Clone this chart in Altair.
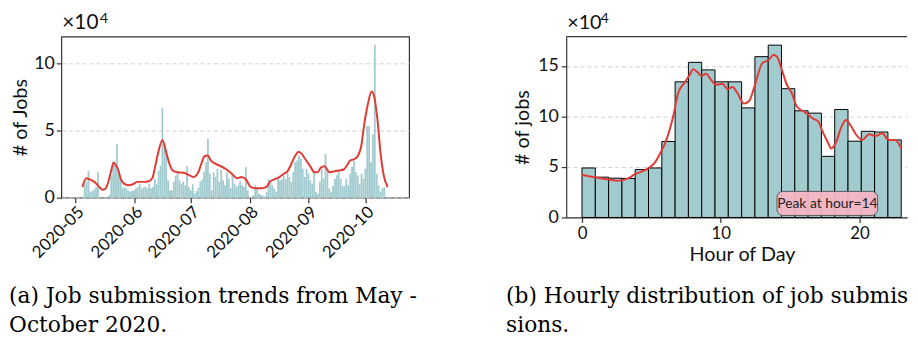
import altair as alt
import numpy as np
import pandas as pd

# ---------------- Panel (a): daily job submissions (x10^4) ----------------
daily_start = "2020-05-06"
daily_jobs = [
    1.0, 1.2, 2.0, 0.45, 0.5, 0.6, 0.8, 1.9, 0, 0,
    0, 0, 0, 0.2, 1.6, 2.7, 2.5, 4.0, 1.9, 1.3,
    0.7, 0.8, 0.7, 0.55, 0.45, 0.5, 0.55, 0.7, 0.8, 1.05,
    0.7, 0.75, 0.85, 0.7, 1.05, 0.7, 0.8, 1.4, 1.0, 2.0,
    2.4, 6.7, 4.1, 3.6, 1.3, 0.55, 0.55, 1.2, 1.65, 2.0,
    1.3, 1.05, 1.2, 0.93, 2.35, 0.8, 0.55, 1.0, 0.3, 0.5,
    0.75, 1.2, 1.37, 1.95, 2.65, 4.4, 1.8, 0.55, 1.9, 1.55,
    2.15, 1.2, 2.1, 1.3, 0.93, 1.9, 1.42, 0.7, 1.65, 1.05,
    0.8, 0.93, 1.22, 0.93, 0.8, 2.28, 0.55, 0.1, 0.05, 0.2,
    0.93, 0.7, 0.3, 0.2, 0.15, 0.1, 0.4, 1.37, 1.13, 0.93,
    0.7, 0.45, 1.42, 1.3, 1.37, 1.67, 1.37, 1.9, 1.54, 1.18,
    1.9, 2.65, 2.77, 3.14, 2.9, 2.16, 1.54, 2.16, 1.8, 1.3,
    1.05, 2.03, 0.45, 0.3, 1.2, 2.28, 1.42, 3.26, 1.9, 0.69,
    0.44, 0.88, 1.42, 1.67, 1.96, 1.42, 0.88, 0.88, 1.42, 0.93,
    1.79, 2.28, 2.77, 1.9, 1.67, 1.05, 1.79, 1.42, 2.16, 5.34,
    5.34, 2.65, 4.73, 11.4, 1.79, 0.93, 0.44, 0.69, 0.8,
]

# smoothed trend: days since 2020-05-01, value (x10^4)
trend_origin = "2020-05-01"
trend_day = [3.8, 5.9, 7.6, 10.1, 12.7, 14.4, 15.7, 16.9, 18.6, 20.3, 21.1, 22.8, 24.1, 25.8,
             27.9, 30.4, 32.9, 36.3, 38.8, 40.8, 42.1, 43.8, 46.0, 48.0, 49.7, 51.4, 53.9, 57.3,
             59.8, 62.3, 64.9, 66.5, 68.2, 69.9, 71.6, 74.1, 76.7, 79.2, 81.7, 83.4, 85.4, 87.6,
             90.0, 92.5, 95.0, 98.4, 100.9, 102.6, 105.1, 107.7, 110.2, 111.9, 114.4, 116.1,
             117.8, 119.5, 121.2, 123.7, 126.2, 127.9, 129.5, 131.5, 134.1, 136.6, 139.1, 141.6,
             143.3, 145.0, 147.5, 149.2, 150.9, 152.3, 154.3, 156.3, 157.7, 159.4, 161.0, 162.7,
             164.8]
trend_val = [0.8, 1.45, 1.37, 1.18, 0.8, 0.6, 0.64, 0.93, 1.8, 2.6, 2.5, 2.03, 1.37, 1.05,
             0.93, 1.0, 1.18, 1.18, 1.22, 1.5, 2.28, 3.38, 4.3, 3.38, 2.52, 2.03, 1.9, 1.86,
             1.7, 1.54, 1.9, 2.52, 3.09, 3.14, 2.77, 2.52, 2.35, 2.16, 1.9, 1.67, 1.45, 1.54,
             1.37, 0.8, 0.7, 0.7, 0.8, 1.18, 1.37, 1.54, 1.8, 1.96, 2.65, 3.14,
             3.43, 3.26, 2.9, 2.4, 1.9, 1.9, 2.25, 2.35, 1.9, 1.96, 2.03, 2.1,
             2.4, 2.77, 2.9, 3.14, 3.87, 5.34, 6.94, 7.92, 7.55, 5.83, 3.38, 1.67,
             0.8]

month_ticks = ["2020-05-01", "2020-06-01", "2020-07-01", "2020-08-01", "2020-09-01", "2020-10-01"]
a_domain = ["2020-04-26 07:00", "2020-10-21 12:00"]
a_yticks = [0, 5, 10]
caption_a = ["(a) Job submission trends from May -", "October 2020."]

# ---------------- Panel (b): hourly distribution (x10^4) ----------------
hour_counts = [4.90, 3.99, 3.89, 3.86, 4.74, 4.90, 7.52, 13.43, 15.36, 14.61, 13.43, 13.43,
               10.85, 15.92, 17.06, 12.75, 10.56, 10.33, 6.05, 10.69, 7.55, 8.53, 8.46, 7.68]
kde_hour = [0.0, 0.99, 1.94, 2.53, 3.36, 3.84, 4.3, 4.8, 5.26, 5.6, 6.1, 6.57, 6.93, 7.4, 7.76,
            8.0, 8.35, 8.59, 8.94, 9.3, 9.66, 10.13, 10.49, 10.84, 11.2, 11.67, 12.03, 12.5,
            12.98, 13.45, 13.8, 14.05, 14.4, 14.76, 15.11, 15.47, 15.94, 16.3, 16.66, 17.0,
            17.37, 17.72, 17.96, 18.3, 18.67, 19.02, 19.38, 19.73, 20.2, 20.68, 21.15, 21.63,
            22.1, 22.58, 23.0]
kde_val = [4.22, 3.95, 3.76, 3.63, 3.89, 4.31, 4.54, 4.9, 5.46, 6.27, 7.75, 10.03, 12.32, 13.37,
           14.12, 14.67, 14.35, 14.02, 14.22, 13.63, 13.14, 13.24, 12.71, 12.91, 12.32, 11.27,
           11.5, 13.3, 15.26, 15.59, 16.08, 15.92, 14.61, 13.14, 12.32, 11.01, 10.52, 10.2,
           9.77, 9.54, 8.4, 7.42, 6.83, 7.42, 8.89, 9.64, 9.05, 8.24, 7.68, 8.24, 8.07, 8.33,
           7.68, 7.68, 6.83]
b_yticks = [0, 5, 10, 15]
b_xticks = [0, 10, 20]
peak_label = "Peak at hour=14"
caption_b = ["(b) Hourly distribution of job submis", "sions."]

# ---------------- styling ----------------
TEAL = "#a2cbcf"
RED = "#e03b35"
FRAME = "#333333"
FONT = "Lato"
CAP_FONT = "DejaVu Serif"


def to_ms(s):
    return int(pd.Timestamp(s, tz="UTC").value // 10**6)


dates = pd.date_range(daily_start, periods=len(daily_jobs), freq="D", tz="UTC")
df_a = pd.DataFrame({"t": (dates.asi8 // 10**6).astype("int64"), "v": daily_jobs})
origin = pd.Timestamp(trend_origin, tz="UTC")
df_trend = pd.DataFrame({
    "t": [int((origin + pd.Timedelta(days=d)).value // 10**6) for d in trend_day],
    "v": trend_val,
})

W1, H1 = 352, 163
xa = alt.X("t:T",
           scale=alt.Scale(type="utc", domain=[to_ms(a_domain[0]), to_ms(a_domain[1])]),
           axis=alt.Axis(values=[to_ms(m) for m in month_ticks],
                         labelExpr="utcFormat(datum.value, '%Y-%m')",
                         labelAngle=-45, labelAlign="right", labelBaseline="top",
                         labelFontSize=17, title=None, grid=False, domain=False,
                         tickSize=5, labelPadding=1, labelOverlap=False))
ya = alt.Y("v:Q", scale=alt.Scale(domain=[0, 12], nice=False),
           axis=alt.Axis(values=a_yticks, title="# of Jobs", grid=True, gridDash=[4, 3],
                         gridColor="#cfcfcf", domain=False, tickSize=5, labelPadding=2,
                         titlePadding=3))

bars_a = alt.Chart(df_a).mark_bar(width=1.8, color=TEAL).encode(x=xa, y=ya)
line_a = alt.Chart(df_trend).mark_line(color=RED, strokeWidth=2, interpolate="monotone").encode(
    x="t:T", y="v:Q")

one = pd.DataFrame({"k": [0]})


def exponent_marks(base_size, pow_x):
    base = alt.Chart(one).mark_text(text="\u00d710", font=FONT, fontSize=base_size, align="left",
                                    baseline="alphabetic", color="#111").encode(
        x=alt.value(1), y=alt.value(-8))
    power = alt.Chart(one).mark_text(text="4", font=FONT, fontSize=14, align="left",
                                     baseline="alphabetic", color="#111").encode(
        x=alt.value(pow_x), y=alt.value(-14))
    return base, power


exp_a = exponent_marks(21, 39)
exp_b = exponent_marks(20, 35)

left = alt.layer(bars_a, line_a, *exp_a).properties(
    width=W1, height=H1,
    title=alt.TitleParams(text=caption_a, orient="bottom", anchor="start", frame="bounds",
                          font=CAP_FONT, fontSize=22, fontWeight="normal", color="black",
                          lineHeight=29, offset=26, dx=-2))

# panel (b)
edges = np.linspace(0, 23, len(hour_counts) + 1)
df_b = pd.DataFrame({"x0": edges[:-1], "x1": edges[1:], "v": hour_counts})
df_kde = pd.DataFrame({"h": kde_hour, "v": kde_val})

W2, H2 = 345, 183
xb = alt.X("x0:Q", scale=alt.Scale(domain=[-1.14, 23.42], nice=False, zero=False),
           axis=alt.Axis(values=b_xticks, title="Hour of Day", grid=False, domain=True,
                         tickSize=5, labelPadding=3, titlePadding=4, titleX=178,
                         labelFontSize=17))
yb = alt.Y("v:Q", scale=alt.Scale(domain=[0, 17.9], nice=False),
           axis=alt.Axis(values=b_yticks, title="# of jobs", grid=True, gridDash=[4, 3],
                         gridColor="#cfcfcf", domain=True, tickSize=5, labelPadding=3,
                         titlePadding=5))

bars_b = alt.Chart(df_b).mark_rect(color=TEAL, stroke="black", strokeWidth=1).encode(
    x=xb, x2="x1:Q", y=yb, y2=alt.datum(0))
line_b = alt.Chart(df_kde).mark_line(color=RED, strokeWidth=2, interpolate="monotone").encode(
    x="h:Q", y="v:Q")

peak_box = pd.DataFrame({"x0": [14.05], "x1": [21.3], "y0": [0.2], "y1": [2.58]})
box = alt.Chart(peak_box).mark_rect(color="#f5b8c4", stroke="#555555", strokeWidth=1,
                                    cornerRadius=6, opacity=0.95).encode(
    x="x0:Q", x2="x1:Q", y="y0:Q", y2="y1:Q")
peak_txt = pd.DataFrame({"x": [17.68], "y": [1.35], "label": [peak_label]})
box_text = alt.Chart(peak_txt).mark_text(font=FONT, fontSize=14, color="#222",
                                         baseline="middle", align="center").encode(
    x="x:Q", y="y:Q", text="label:N")
top_rule = alt.Chart(one).mark_rule(color=FRAME, strokeWidth=1.2).encode(
    x=alt.value(0), x2=alt.value(W2), y=alt.value(0))

right = alt.layer(bars_b, line_b, box, box_text, top_rule, *exp_b).properties(
    width=W2, height=H2, view=alt.ViewBackground(stroke="transparent"),
    title=alt.TitleParams(text=caption_b, orient="bottom", anchor="start", frame="bounds",
                          font=CAP_FONT, fontSize=22, fontWeight="normal", color="black",
                          lineHeight=29, offset=22, dx=-7))

chart = alt.hconcat(left, right, spacing=88).properties(
    padding={"left": 0, "top": 1, "right": 0, "bottom": 0}
).configure_view(
    stroke=FRAME, strokeWidth=1.2
).configure_axis(
    labelFont=FONT, titleFont=FONT, labelFontSize=18, titleFontSize=20,
    labelColor="#111", titleColor="#111", titleFontWeight="normal",
    tickColor=FRAME, domainColor=FRAME, domainWidth=1.2, tickWidth=1.2
)

chart.save("out.html", embed_options={"renderer": "svg", "actions": False})
